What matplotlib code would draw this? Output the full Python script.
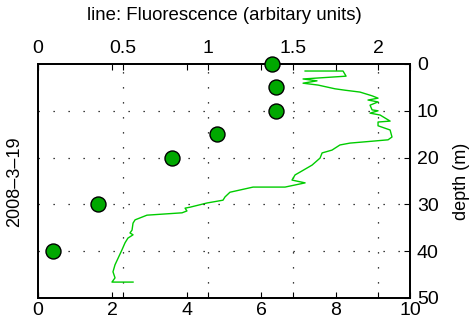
import matplotlib
matplotlib.use("Agg")
import matplotlib.pyplot as plt

plt.rcParams['font.family'] = ['Liberation Sans', 'DejaVu Sans']

# Fluorescence profile (top axis, arbitrary units) vs depth (m)
fluor = [1.571, 1.794, 1.812, 1.559, 1.641, 1.559, 1.647, 1.747, 1.806, 1.894,
         1.965, 2.000, 1.941, 2.000, 1.953, 1.965, 2.000, 1.953, 2.012, 2.071,
         2.000, 2.000, 2.071, 2.082, 2.059, 1.965, 1.835, 1.776, 1.729, 1.671,
         1.659, 1.612, 1.541, 1.512, 1.494, 1.571, 1.453, 1.265, 1.129, 1.100,
         1.088, 0.994, 0.894, 0.865, 0.876, 0.847, 0.641, 0.571, 0.559, 0.553,
         0.541, 0.559, 0.529, 0.512, 0.494, 0.471, 0.453, 0.441, 0.453, 0.435,
         0.559]
fluor_depth = [1.5, 1.5, 2.6, 3.2, 3.6, 4.1, 4.5, 5.3, 5.6, 6.0,
               6.8, 7.3, 7.7, 8.1, 8.8, 9.8, 10.0, 10.5, 10.9, 12.2,
               12.4, 13.2, 14.1, 15.6, 16.2, 16.5, 16.9, 17.3, 18.4, 19.0,
               20.1, 21.6, 23.1, 23.7, 24.8, 25.4, 26.3, 26.3, 27.4, 28.4,
               29.1, 29.7, 30.6, 30.8, 31.4, 31.8, 32.3, 33.3, 34.0, 35.5,
               36.1, 36.5, 37.2, 38.2, 39.7, 41.5, 42.9, 44.4, 45.7, 46.6,
               46.6]

# Bottle samples (bottom axis) vs depth
sample_val = [6.3, 6.4, 6.4, 4.8, 3.6, 1.6, 0.4]
sample_depth = [0, 5, 10, 15, 20, 30, 40]

bottom_ticks = [0, 2, 4, 6, 8, 10]
top_ticks = [0, 0.5, 1, 1.5, 2]
top_ticklabels = ['0', '0.5', '1', '1.5', '2']
depth_ticks = [0, 10, 20, 30, 40, 50]

fig = plt.figure(figsize=(4.72, 3.33), dpi=100)
ax = fig.add_axes([38/472, 35/333, 372/472, 234/333])
ax2 = ax.twiny()

dotted = (0, (1, 11))
line_green = '#00cc00'
marker_green = '#00a800'

# line on top axis
ax2.plot(fluor, fluor_depth, color=line_green, lw=1.0, zorder=3)
ax2.set_xlim(0, 2.188)
ax2.set_xticks(top_ticks)
ax2.set_xticklabels(top_ticklabels)
ax2.tick_params(axis='x', direction='in', length=4, width=0.8, top=True, bottom=True,
                labeltop=True, labelbottom=False, labelsize=14, pad=5)
for x in top_ticks[1:]:
    ax2.axvline(x, color='k', lw=0.9, ls=dotted, zorder=1)

# markers on bottom axis
ax.plot(sample_val, sample_depth, 'o', ms=10.8, mfc=marker_green, mec='k', mew=1.0,
        clip_on=False, zorder=5)
ax.set_xlim(0, 10)
ax.set_ylim(50, 0)
ax.set_xticks(bottom_ticks)
ax.set_yticks(depth_ticks)
ax.tick_params(axis='x', direction='in', length=4, width=0.8, top=True, bottom=True,
               labeltop=False, labelbottom=True, labelsize=14, pad=3)
ax.tick_params(axis='y', direction='in', length=4, width=0.8, left=False, right=True,
               labelleft=False, labelright=True, labelsize=14, pad=5)
for d in depth_ticks[1:-1]:
    ax.axhline(d, color='k', lw=0.9, ls=dotted, zorder=1)

# put marker axes above line axes
ax.set_zorder(ax2.get_zorder() + 1)
ax.patch.set_visible(False)

for a in (ax, ax2):
    for s in a.spines.values():
        s.set_linewidth(1.3)

fig.text(224/472, 1 - 15/333, 'line: Fluorescence (arbitary units)', ha='center', va='center',
         fontsize=13.4)
fig.text(462/472, 1 - 181/333, 'depth (m)', ha='center', va='center', rotation=90, fontsize=13)
fig.text(15/472, 1 - 182/333, '2008–3–19', ha='center', va='center', rotation=90, fontsize=13)

fig.savefig('out.png', dpi=100)
